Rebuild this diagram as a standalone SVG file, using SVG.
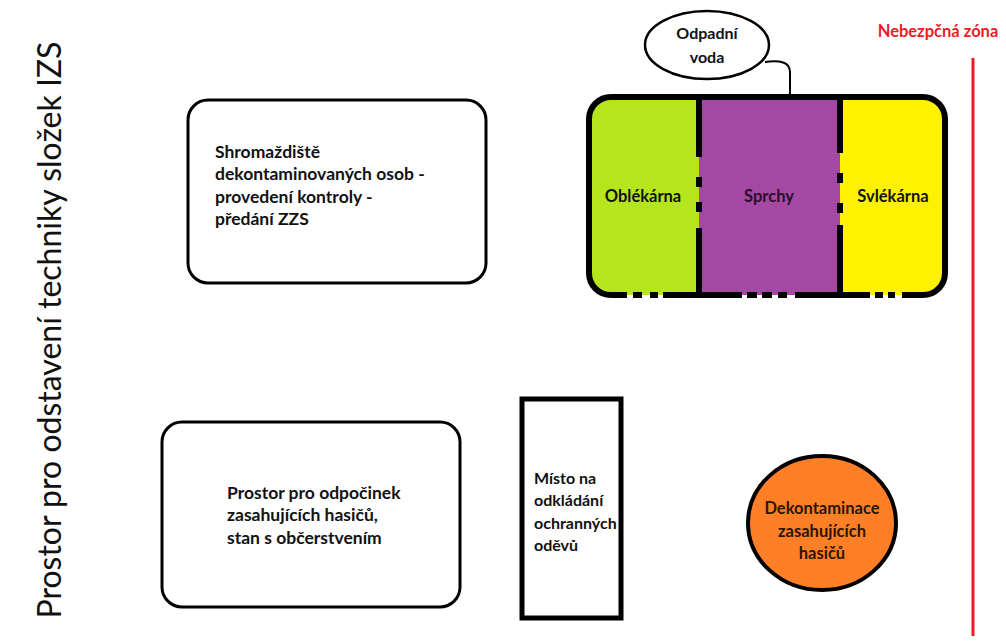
<svg xmlns="http://www.w3.org/2000/svg" width="1006" height="641" viewBox="0 0 1006 641">
<style>
.t{font-family:Lato,"Open Sans","Liberation Sans",sans-serif;font-weight:bold;font-size:17.5px;fill:#111}
.box{fill:#fff;stroke:#000;stroke-width:3}
.wall{stroke:#000;stroke-width:6;fill:none}
.gap{stroke:#000;stroke-width:6}
</style>
<rect width="1006" height="641" fill="#fff"/>
<g id="side-label">
<text transform="translate(61,330) rotate(-90)" text-anchor="middle" style="font-family:Lato,'Open Sans',sans-serif;font-size:32px;fill:#111">Prostor pro odstavení techniky složek IZS</text>
</g>
<g id="danger-zone">
<text x="938" y="37" text-anchor="middle" class="t" style="fill:#ED1C24;font-size:16.5px">Nebezpčná zóna</text>
<line x1="973" y1="58" x2="973" y2="636" stroke="#ED1C24" stroke-width="3"/>
</g>
<g id="decon-unit">
<rect x="589" y="97" width="356" height="198" rx="22" fill="#B5E61D"/>
<rect x="699" y="97" width="141" height="198" fill="#A349A4"/>
<path d="M840 97 H923 A22 22 0 0 1 945 119 V273 A22 22 0 0 1 923 295 H840 Z" fill="#FFF200"/>
<path class="wall" d="M627 295 H611 A22 22 0 0 1 589 273 V119 A22 22 0 0 1 611 97 H923 A22 22 0 0 1 945 119 V273 A22 22 0 0 1 923 295 H902"/>
<line class="wall" x1="663" y1="295" x2="742" y2="295"/>
<line class="wall" x1="795" y1="295" x2="870" y2="295"/>
<line class="gap" x1="633" y1="295" x2="642" y2="295"/>
<line class="gap" x1="650" y1="295" x2="658" y2="295"/>
<line class="gap" x1="747" y1="295" x2="757" y2="295"/>
<line class="gap" x1="762" y1="295" x2="772" y2="295"/>
<line class="gap" x1="778" y1="295" x2="787" y2="295"/>
<line class="gap" x1="875" y1="295" x2="883" y2="295"/>
<line class="gap" x1="888" y1="295" x2="895" y2="295"/>
<line class="wall" x1="699" y1="97" x2="699" y2="157"/>
<line class="wall" x1="699" y1="177" x2="699" y2="187"/>
<line class="wall" x1="699" y1="202" x2="699" y2="212"/>
<line class="wall" x1="699" y1="228" x2="699" y2="295"/>
<line class="wall" x1="840" y1="97" x2="840" y2="153"/>
<line class="wall" x1="840" y1="173" x2="840" y2="183"/>
<line class="wall" x1="840" y1="203" x2="840" y2="213"/>
<line class="wall" x1="840" y1="225" x2="840" y2="295"/>
<text x="643" y="202" text-anchor="middle" class="t" style="font-size:16.5px">Oblékárna</text>
<text x="769" y="202" text-anchor="middle" class="t" style="fill:#2a0f2a;font-size:16.5px">Sprchy</text>
<text x="893" y="202" text-anchor="middle" class="t" style="font-size:16.5px">Svlékárna</text>
</g>
<g id="waste-water">
<path d="M765 62 C780 60 790 62 790 72 V95" fill="none" stroke="#000" stroke-width="2"/>
<ellipse cx="707" cy="45" rx="62" ry="34" fill="#fff" stroke="#000" stroke-width="2.5"/>
<text x="707" y="39" text-anchor="middle" class="t" style="font-size:16px">Odpadní</text>
<text x="707" y="63" text-anchor="middle" class="t" style="font-size:16px">voda</text>
</g>
<g id="assembly">
<rect class="box" x="188" y="100" width="298" height="183" rx="20"/>
<text class="t" x="215" y="158">Shromaždiště</text>
<text class="t" x="215" y="180">dekontaminovaných osob -</text>
<text class="t" x="215" y="203">provedení kontroly -</text>
<text class="t" x="215" y="225">předání ZZS</text>
</g>
<g id="rest-area">
<rect class="box" x="162" y="422" width="298" height="185" rx="20"/>
<text class="t" x="227" y="499">Prostor pro odpočinek</text>
<text class="t" x="227" y="521">zasahujících hasičů,</text>
<text class="t" x="227" y="544">stan s občerstvením</text>
</g>
<g id="clothing">
<rect x="522" y="399" width="99" height="219" fill="#fff" stroke="#000" stroke-width="5"/>
<text class="t" x="534" y="484" style="font-size:16px">Místo na</text>
<text class="t" x="534" y="506" style="font-size:16px">odkládání</text>
<text class="t" x="534" y="529" style="font-size:16px">ochranných</text>
<text class="t" x="534" y="551" style="font-size:16px">oděvů</text>
</g>
<g id="firefighter-decon">
<ellipse cx="822" cy="523" rx="74" ry="67" fill="#FF7F27" stroke="#000" stroke-width="4"/>
<text class="t" x="822" y="514" text-anchor="middle" style="fill:#2a1500;font-size:16.5px">Dekontaminace</text>
<text class="t" x="822" y="537" text-anchor="middle" style="fill:#2a1500;font-size:16.5px">zasahujících</text>
<text class="t" x="822" y="559" text-anchor="middle" style="fill:#2a1500;font-size:16.5px">hasičů</text>
</g>
</svg>
